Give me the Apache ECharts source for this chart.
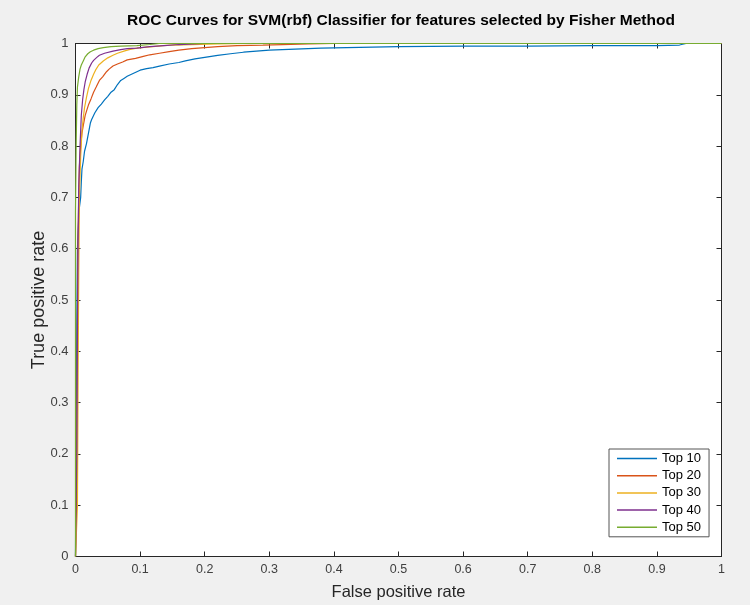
<!DOCTYPE html>
<html>
<head>
<meta charset="utf-8">
<script src="https://cdn.jsdelivr.net/npm/echarts@6/dist/echarts.min.js"></script>
<style>
html,body{margin:0;padding:0;background:#f0f0f0;}
#chart{width:750px;height:605px;}
</style>
</head>
<body>
<div id="chart"></div>
<script>
const titleText = "ROC Curves for SVM(rbf) Classifier for features selected by Fisher Method";
const xAxisName = "False positive rate";
const yAxisName = "True positive rate";
const seriesNames = ["Top 10", "Top 20", "Top 30", "Top 40", "Top 50"];
const tickValues = [0, 0.1, 0.2, 0.3, 0.4, 0.5, 0.6, 0.7, 0.8, 0.9, 1];

const top10X = [0, 0.001, 0.002, 0.003, 0.005, 0.006, 0.008, 0.009, 0.010, 0.012, 0.014, 0.017, 0.020, 0.023, 0.025, 0.030, 0.035, 0.040, 0.045, 0.050, 0.055, 0.060, 0.065, 0.070, 0.075, 0.080, 0.090, 0.100, 0.110, 0.120, 0.130, 0.145, 0.160, 0.170, 0.185, 0.200, 0.220, 0.240, 0.260, 0.280, 0.300, 0.340, 0.380, 0.420, 0.460, 0.500, 0.600, 0.700, 0.800, 0.900, 0.935, 0.945, 1];
const top10Y = [0, 0.25, 0.45, 0.60, 0.66, 0.68, 0.70, 0.73, 0.755, 0.77, 0.79, 0.805, 0.825, 0.845, 0.852, 0.865, 0.875, 0.882, 0.890, 0.897, 0.905, 0.910, 0.920, 0.928, 0.932, 0.936, 0.942, 0.948, 0.951, 0.953, 0.956, 0.960, 0.963, 0.966, 0.970, 0.973, 0.977, 0.980, 0.983, 0.985, 0.987, 0.989, 0.991, 0.992, 0.993, 0.994, 0.995, 0.995, 0.996, 0.996, 0.997, 1, 1];

const top20X = [0, 0.002, 0.003, 0.004, 0.005, 0.006, 0.008, 0.010, 0.012, 0.015, 0.018, 0.020, 0.024, 0.028, 0.032, 0.037, 0.042, 0.048, 0.052, 0.058, 0.065, 0.073, 0.080, 0.093, 0.105, 0.115, 0.130, 0.145, 0.160, 0.180, 0.200, 0.220, 0.250, 0.290, 0.320, 0.360, 0.400, 1];
const top20Y = [0, 0.12, 0.45, 0.62, 0.70, 0.76, 0.80, 0.825, 0.84, 0.86, 0.872, 0.88, 0.892, 0.905, 0.915, 0.928, 0.935, 0.945, 0.950, 0.956, 0.960, 0.964, 0.968, 0.971, 0.975, 0.978, 0.981, 0.984, 0.987, 0.990, 0.992, 0.994, 0.996, 0.997, 0.998, 0.999, 1, 1];

const top30X = [0, 0.003, 0.004, 0.005, 0.006, 0.008, 0.010, 0.012, 0.014, 0.017, 0.020, 0.024, 0.028, 0.031, 0.036, 0.043, 0.050, 0.058, 0.065, 0.075, 0.083, 0.095, 0.110, 0.120, 0.135, 0.150, 0.180, 0.220, 0.260, 1];
const top30Y = [0, 0.10, 0.35, 0.55, 0.70, 0.78, 0.83, 0.855, 0.875, 0.895, 0.912, 0.928, 0.940, 0.948, 0.958, 0.966, 0.972, 0.977, 0.981, 0.985, 0.988, 0.991, 0.993, 0.994, 0.996, 0.997, 0.998, 0.999, 1, 1];

const top40X = [0, 0.002, 0.003, 0.004, 0.005, 0.007, 0.009, 0.011, 0.013, 0.015, 0.018, 0.021, 0.025, 0.028, 0.033, 0.037, 0.045, 0.058, 0.070, 0.080, 0.095, 0.115, 0.137, 0.160, 0.200, 1];
const top40Y = [0, 0.20, 0.45, 0.62, 0.72, 0.80, 0.86, 0.89, 0.91, 0.925, 0.94, 0.952, 0.962, 0.967, 0.973, 0.977, 0.981, 0.985, 0.988, 0.990, 0.991, 0.994, 0.996, 0.998, 1, 1];

const top50X = [0, 0.000, 0.001, 0.002, 0.003, 0.004, 0.005, 0.007, 0.009, 0.012, 0.015, 0.019, 0.023, 0.028, 0.035, 0.043, 0.055, 0.070, 0.095, 0.115, 0.130, 1];
const top50Y = [0, 0.67, 0.80, 0.88, 0.915, 0.925, 0.935, 0.950, 0.958, 0.966, 0.974, 0.980, 0.984, 0.987, 0.990, 0.992, 0.994, 0.995, 0.996, 0.998, 1, 1];

const seriesX = [top10X, top20X, top30X, top40X, top50X];
const seriesY = [top10Y, top20Y, top30Y, top40Y, top50Y];
const colors = ["#0072BD", "#D95319", "#EDB120", "#7E2F8E", "#77AC30"];

const FONT = "'Liberation Sans', Arial, Helvetica, sans-serif";
const axisColor = "#262626";

function zip(xs, ys) { return xs.map((x, i) => [x, ys[i]]); }

function makeX(pos, showLabels) {
  return {
    type: 'value', position: pos, min: 0, max: 1, interval: 0.1,
    gridIndex: 0,
    axisLine: { show: true, onZero: false, lineStyle: { color: axisColor, width: 1 } },
    axisTick: { show: true, inside: true, length: 5, lineStyle: { color: axisColor } },
    axisLabel: { show: showLabels, color: '#404040', fontFamily: FONT, fontSize: 12.5, margin: 7,
      formatter: v => tickValues.includes(Math.round(v * 10) / 10) ? String(Math.round(v * 10) / 10) : '' },
    splitLine: { show: false },
    name: showLabels ? xAxisName : '', nameLocation: 'middle', nameGap: 27, nameMoveOverlap: false,
    nameTextStyle: { color: '#262626', fontFamily: FONT, fontSize: 16.5 }
  };
}
function makeY(pos, showLabels) {
  return {
    type: 'value', position: pos, min: 0, max: 1, interval: 0.1,
    gridIndex: 0,
    axisLine: { show: true, onZero: false, lineStyle: { color: axisColor, width: 1 } },
    axisTick: { show: true, inside: true, length: 5, lineStyle: { color: axisColor } },
    axisLabel: { show: showLabels, color: '#404040', fontFamily: FONT, fontSize: 13, margin: 7,
      formatter: v => String(Math.round(v * 10) / 10) },
    splitLine: { show: false },
    name: showLabels ? yAxisName : '', nameLocation: 'middle', nameGap: 27, nameRotate: 90, nameMoveOverlap: false,
    nameTextStyle: { color: '#262626', fontFamily: FONT, fontSize: 18 }
  };
}

const lineIcon = 'path://M0,0 L40,0 L40,1.5 L0,1.5 Z';

const chart = echarts.init(document.getElementById('chart'), null, { renderer: 'canvas' });
chart.setOption({
  backgroundColor: '#f0f0f0',
  animation: false,
  title: {
    text: titleText, left: 396, top: 8, textAlign: 'center',
    textStyle: { fontFamily: FONT, fontSize: 15.5, fontWeight: 'bold', color: '#000' }
  },
  grid: { left: 75.5, right: 28.5, top: 43.5, bottom: 48.5, show: true, backgroundColor: '#fff', borderColor: axisColor, borderWidth: 0,
    containLabel: false, outerBoundsMode: 'none' },
  xAxis: [makeX('bottom', true), makeX('top', false)],
  yAxis: [makeY('left', true), makeY('right', false)],
  legend: {
    orient: 'vertical', left: 609, top: 449,
    data: seriesNames.map(n => ({ name: n, icon: lineIcon })),
    backgroundColor: '#fff', borderColor: '#555', borderWidth: 1,
    padding: [3, 8, 3, 8],
    itemWidth: 40, itemHeight: 14, itemGap: 4.2,
    textStyle: { fontFamily: FONT, fontSize: 13, color: '#000' }
  },
  series: seriesNames.map((name, i) => ({
    name, type: 'line', xAxisIndex: 0, yAxisIndex: 0,
    data: zip(seriesX[i], seriesY[i]),
    symbol: 'none', smooth: false,
    lineStyle: { color: colors[i], width: 1.2 },
    itemStyle: { color: colors[i] },
    z: 2 + i
  }))
});
</script>
</body>
</html>
